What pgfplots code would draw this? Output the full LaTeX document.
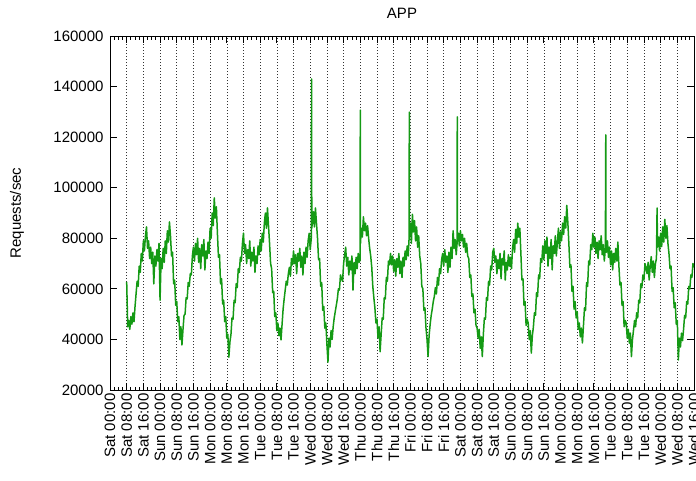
\documentclass[border=0pt]{standalone}
\usepackage{fontspec}
\setmainfont{Liberation Sans}
\usepackage{pgfplots}
\pgfplotsset{compat=1.18}
\definecolor{lt2}{RGB}{20,154,20}

\begin{document}
\begin{tikzpicture}
\useasboundingbox (-110pt,-90pt) rectangle (586pt,390pt);
\begin{axis}[
  name=ax, at={(0,0)}, anchor=south west,
  width=584pt, height=354pt, scale only axis,
  font=\fontsize{15}{18}\selectfont,
  xmin=0, xmax=280, ymin=20000, ymax=160000,
  xtick={0,8,...,280},
  xticklabels={Sat 00:00,Sat 08:00,Sat 16:00,Sun 00:00,Sun 08:00,Sun 16:00,Mon 00:00,Mon 08:00,Mon 16:00,Tue 00:00,Tue 08:00,Tue 16:00,Wed 00:00,Wed 08:00,Wed 16:00,Thu 00:00,Thu 08:00,Thu 16:00,Fri 00:00,Fri 08:00,Fri 16:00,Sat 00:00,Sat 08:00,Sat 16:00,Sun 00:00,Sun 08:00,Sun 16:00,Mon 00:00,Mon 08:00,Mon 16:00,Tue 00:00,Tue 08:00,Tue 16:00,Wed 00:00,Wed 08:00,Wed 16:00},
  minor x tick num=3,
  ytick={20000,40000,...,160000},
  scaled y ticks=false,
  yticklabel style={xshift=-3pt, /pgf/number format/.cd, fixed, set thousands separator={}, assume math mode=true},
  x tick label style={rotate=90, anchor=east},
  major tick length=7pt, minor tick length=3.5pt,
  tick style={black, line width=0.8pt},
  axis line style={line width=0.8pt},
  xmajorgrids,
  major x grid style={black!80, line width=0.6pt, dash pattern=on 1pt off 2pt},
  title={APP},
  title style={at={(0.5,1)}, anchor=base, yshift=11pt},
  ylabel={Requests/sec},
  every axis y label/.style={at={(axis description cs:-0.1592,0.5)}, anchor=center, rotate=90},
]
\addplot[lt2, line width=1.5pt, line join=round] coordinates {
(8,62800)(8.5,45000)(9,47500)(9.5,44000)(10,49000)(10.5,46000)(11,50500)(11.5,47000)(12,53000)(12.5,58000)
(13,63000)(13.5,61000)(14,69000)(14.5,66500)(15,74000)(15.5,71000)(16,79000)(16.5,75000)(17,81000)(17.5,84500)
(18,76000)(18.5,79000)(19,72000)(19.5,76500)(20,70000)(20.5,74500)(21,62000)(21.5,73000)(22,69000)(22.5,75500)
(23,71000)(23.5,78000)(24,55500)(24.5,72000)(25,68000)(25.5,76000)(26,70500)(26.5,79000)(27,74000)(27.5,83000)
(28,78500)(28.5,86500)(29,81000)(29.5,73000)(30,74500)(30.5,62000)(31,63500)(31.5,53500)(32,55000)(32.5,47000)
(33,49000)(33.5,40000)(34,45000)(34.5,37800)(35,44000)(35.5,49500)(36,50000)(36.5,56500)(37,56000)(37.5,62500)
(38,61000)(38.5,66000)(39,65500)(39.5,73000)(40,76500)(40.5,71000)(41,78000)(41.5,73500)(42,80000)(42.5,70500)
(43,76000)(43.5,68000)(44,77500)(44.5,73000)(45,79500)(45.5,67500)(46,75000)(46.5,72000)(47,78500)(47.5,74000)
(48,84000)(48.5,80000)(49,90000)(49.5,85000)(50,96000)(50.5,88000)(51,92500)(51.5,82000)(52,72500)(52.5,73500)
(53,62000)(53.5,64000)(54,54000)(54.5,55500)(55,47000)(55.5,49000)(56,40500)(56.5,42000)(57,33000)(57.5,39000)
(58,42000)(58.5,48500)(59,48000)(59.5,55500)(60,54500)(60.5,62000)(61,60500)(61.5,68000)(62,66500)(62.5,72500)
(63,71000)(63.5,78000)(64,82000)(64.5,74000)(65,77500)(65.5,70000)(66,75500)(66.5,72000)(67,79000)(67.5,69000)
(68,74500)(68.5,71000)(69,76500)(69.5,66500)(70,73000)(70.5,70000)(71,77000)(71.5,73500)(72,79500)(72.5,75000)
(73,82000)(73.5,78500)(74,86000)(74.5,90000)(75,84000)(75.5,92000)(76,85000)(76.5,78000)(77,70000)(77.5,68000)
(78,58500)(78.5,59000)(79,49000)(79.5,50500)(80,43500)(80.5,46500)(81,41500)(81.5,44500)(82,39800)(82.5,46000)
(83,52000)(83.5,56000)(84,59500)(84.5,63000)(85,61500)(85.5,66000)(86,68500)(86.5,65000)(87,72000)(87.5,69500)
(88,75000)(88.5,70000)(89,73500)(89.5,66000)(90,74000)(90.5,71000)(91,76000)(91.5,68500)(92,73000)(92.5,65500)
(93,74500)(93.5,70000)(94,76500)(94.5,72500)(95,79000)(95.5,82000)(96,75500)(96.5,80000)(96.65,143000)(96.75,84000)
(97,86000)(97.5,90500)(98,84500)(98.5,92000)(99,86000)(99.5,80000)(100,71500)(100.5,72000)(101,61000)(101.5,62500)
(102,51500)(102.5,53000)(103,44500)(103.5,46500)(104,38000)(104.5,31000)(105,40500)(105.5,37000)(106,43500)(106.5,40000)
(107,45000)(107.5,48500)(108,51000)(108.5,53500)(109,56000)(109.5,60000)(110,59500)(110.5,65500)(111,64000)(111.5,63000)
(112,70000)(112.5,73500)(113,76500)(113.5,69000)(114,72500)(114.5,65500)(115,71000)(115.5,67500)(116,73000)(116.5,59500)
(117,70500)(117.5,66000)(118,72500)(118.5,68000)(119,74000)(119.5,70500)(119.9,71500)(120,130700)(120.1,78000)(120.5,84000)
(121,80500)(121.5,88500)(122,83000)(122.5,86000)(123,81000)(123.5,85000)(124,80000)(124.5,76000)(125,73000)(125.5,68500)
(126,61000)(126.5,56500)(127,52500)(127.5,46500)(128,48000)(128.5,40500)(129,45000)(129.5,35100)(130,42000)(130.5,48500)
(131,48000)(131.5,56500)(132,56000)(132.5,64500)(133,63000)(133.5,71000)(134,69500)(134.5,74000)(135,69500)(135.5,73000)
(136,67000)(136.5,71500)(137,65000)(137.5,72000)(138,68500)(138.5,74000)(139,66000)(139.5,71000)(140,64500)(140.5,72500)
(141,69000)(141.5,75000)(142,71500)(142.5,77000)(143,73000)(143.4,80000)(143.5,129900)(143.6,82000)(144,86000)(144.5,78000)
(145,89500)(145.5,82500)(146,87000)(146.5,79000)(147,84500)(147.5,76500)(148,81000)(148.5,73000)(149,70000)(149.5,61000)
(150,60000)(150.5,51500)(151,52500)(151.5,44500)(152,40000)(152.5,33200)(153,41500)(153.5,46000)(154,49500)(154.5,52000)
(155,55000)(155.5,57000)(156,60500)(156.5,58000)(157,64500)(157.5,61500)(158,68000)(158.5,66000)(159,71500)(159.5,74000)
(160,69000)(160.5,75500)(161,70500)(161.5,73000)(162,66500)(162.5,74500)(163,68500)(163.5,76500)(164,72000)(164.5,83000)
(165,76000)(165.5,79500)(166,73500)(166.4,78000)(166.5,128000)(166.6,80000)(167,82000)(167.5,77000)(168,83000)(168.5,79000)
(169,81500)(169.5,76500)(170,80000)(170.5,74500)(171,78000)(171.5,73000)(172,72000)(172.5,64500)(173,65500)(173.5,57000)
(174,58000)(174.5,50500)(175,52000)(175.5,45500)(176,44500)(176.5,40500)(177,44000)(177.5,36500)(178,41000)(178.5,33200)
(179,42000)(179.5,48500)(180,48000)(180.5,56500)(181,55500)(181.5,63000)(182,61500)(182.5,69000)(183,67500)(183.5,74500)
(184,76000)(184.5,70500)(185,73000)(185.5,66000)(186,71500)(186.5,68000)(187,74000)(187.5,64000)(188,72000)(188.5,69500)
(189,75000)(189.5,63500)(190,70500)(190.5,67500)(191,73500)(191.5,69000)(192,72500)(192.5,68000)(193,76000)(193.5,79500)
(194,74500)(194.5,83500)(195,78000)(195.5,86000)(196,80500)(196.5,84000)(197,74000)(197.5,63500)(198,64000)(198.5,53500)
(199,55000)(199.5,45500)(200,48000)(200.5,46500)(201,40000)(201.5,43500)(202,34600)(202.5,41500)(203,45000)(203.5,50500)
(204,49500)(204.5,58500)(205,57000)(205.5,65500)(206,64000)(206.5,72000)(207,70500)(207.5,77000)(208,71500)(208.5,79000)
(209,74000)(209.5,80500)(210,69000)(210.5,76500)(211,72000)(211.5,79500)(212,67500)(212.5,77000)(213,74000)(213.5,81000)
(214,73000)(214.5,78500)(215,84000)(215.5,76000)(216,82500)(216.5,79000)(217,86000)(217.5,81500)(218,88500)(218.5,84000)
(219,93000)(219.5,86500)(220,78000)(220.5,68500)(221,69500)(221.5,59000)(222,61000)(222.5,52000)(223,55000)(223.5,48500)
(224,51000)(224.5,44000)(225,46500)(225.5,41000)(226,44500)(226.5,38600)(227,45500)(227.5,52500)(228,51500)(228.5,62500)
(229,61000)(229.5,71000)(230,69500)(230.5,77500)(231,75500)(231.5,82000)(232,76500)(232.5,80500)(233,74000)(233.5,78500)
(234,72000)(234.5,79000)(235,75500)(235.5,81000)(236,73500)(236.5,77500)(237,71000)(237.5,76000)(237.7,120900)(237.8,78000)
(238,74500)(238.5,79000)(239,72500)(239.5,76500)(240,69500)(240.5,75000)(241,67500)(241.5,74000)(242,70500)(242.5,76000)
(243,71000)(243.5,78500)(244,69000)(244.5,61500)(245,62500)(245.5,53500)(246,55000)(246.5,45000)(247,47500)(247.5,46500)
(248,40500)(248.5,44000)(249,38500)(249.5,42500)(250,33200)(250.5,40000)(251,43700)(251.5,47500)(252,45000)(252.5,50500)
(253,48500)(253.5,55500)(254,54500)(254.5,62000)(255,60500)(255.5,65500)(256,63500)(256.5,70000)(257,68500)(257.5,66000)
(258,70500)(258.5,63500)(259,69000)(259.5,72700)(260,66500)(260.5,71000)(261,64500)(261.5,70000)(262,72000)(262.3,92000)
(262.5,76500)(263,80500)(263.5,75000)(264,82000)(264.5,76700)(265,84500)(265.5,78500)(266,87500)(266.5,80000)(267,85000)
(267.5,78000)(268,74000)(268.5,68000)(269,69000)(269.5,59000)(270,60500)(270.5,52500)(271,54500)(271.5,46000)(272,47500)
(272.5,31900)(273,40500)(273.5,37000)(274,42500)(274.5,39500)(275,44000)(275.5,49500)(276,48500)(276.5,55000)(277,54000)
(277.5,61000)(278,60000)(278.5,65500)(279,64500)(279.5,70000)(280,68500)
};
\end{axis}
\end{tikzpicture}
\end{document}
